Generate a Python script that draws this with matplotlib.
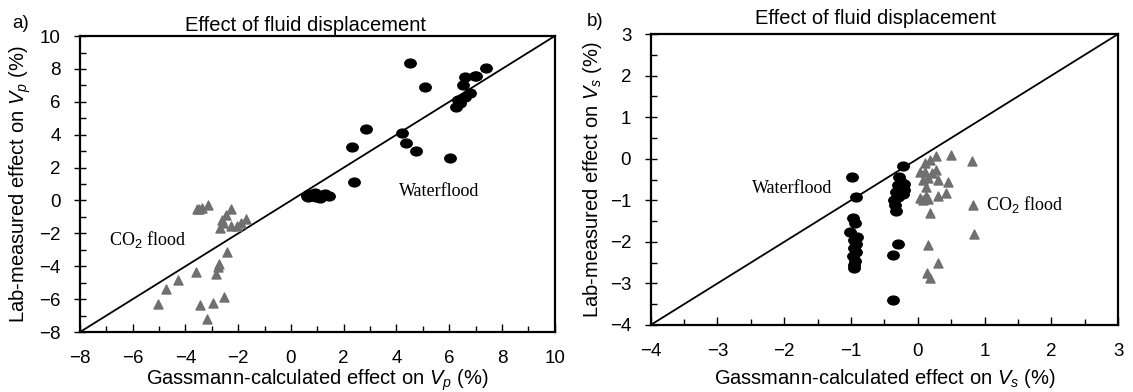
import numpy as np
import matplotlib.pyplot as plt
from matplotlib.path import Path
from matplotlib.transforms import Affine2D

plt.rcParams['font.family'] = ['Liberation Sans', 'DejaVu Sans']
plt.rcParams['mathtext.fontset'] = 'custom'
plt.rcParams['mathtext.it'] = 'Liberation Sans:italic'
plt.rcParams['mathtext.rm'] = 'Liberation Sans'

# panel a) Vp
vp_water_x = [4.5, 5.07, 7.38, 6.59, 6.96, 7.03, 6.52, 6.77, 6.33, 6.27, 6.39, 6.59,
              2.83, 2.33, 2.38, 4.22, 4.37, 4.73, 6.04,
              0.6, 0.7, 0.8, 0.9, 1.0, 1.1, 1.2, 1.3, 1.45, 0.65, 0.95]
vp_water_y = [8.34, 6.92, 8.04, 7.53, 7.57, 7.57, 7.02, 6.52, 6.11, 5.67, 5.91, 6.32,
              4.33, 3.28, 1.15, 4.09, 3.48, 3.02, 2.61,
              0.3, 0.4, 0.25, 0.45, 0.3, 0.15, 0.35, 0.4, 0.3, 0.2, 0.2]
vp_co2_x = [-5.03, -4.72, -4.30, -3.62, -3.45, -3.20, -2.97, -2.55, -2.85, -2.76, -2.72, -2.41,
            -3.58, -3.39, -3.14, -2.29, -2.48, -2.70, -2.57, -2.26, -2.06, -1.88, -1.69, -2.63, -3.48]
vp_co2_y = [-6.28, -5.38, -4.86, -4.35, -6.34, -7.19, -6.24, -5.89, -4.45, -4.05, -3.85, -3.14,
            -0.53, -0.47, -0.26, -0.53, -0.87, -1.68, -1.38, -1.58, -1.58, -1.38, -1.13, -1.17, -0.5]

# panel b) Vs
vs_water_x = [-0.98, -0.93, -0.97, -0.94, -1.02, -0.91, -0.95, -0.93, -0.96, -0.92, -0.97, -0.94, -0.96, -0.95,
              -0.22, -0.28, -0.25, -0.30, -0.22, -0.27, -0.33, -0.22, -0.30, -0.35, -0.25, -0.34, -0.32,
              -0.29, -0.37, -0.37, -0.20, -0.20]
vs_water_y = [-0.43, -0.91, -1.43, -1.55, -1.76, -1.88, -1.95, -2.05, -2.15, -2.25, -2.35, -2.45, -2.55, -2.62,
              -0.17, -0.45, -0.55, -0.62, -0.68, -0.75, -0.80, -0.85, -0.92, -1.00, -0.70, -1.12, -1.25,
              -2.05, -2.32, -3.40, -0.60, -0.75]
vs_co2_x = [0.11, 0.18, 0.28, 0.50, 0.82, 0.03, 0.11, 0.21, 0.28, 0.08, 0.16, 0.31, 0.46, 0.13,
            0.03, 0.08, 0.16, 0.12, 0.31, 0.43, 0.18, 0.83, 0.84, 0.16, 0.31, 0.14, 0.19]
vs_co2_y = [-0.11, -0.03, 0.06, 0.10, -0.06, -0.33, -0.31, -0.35, -0.27, -0.51, -0.47, -0.51, -0.55, -0.67,
            -0.95, -1.00, -0.97, -0.90, -0.90, -0.83, -1.31, -1.11, -1.82, -2.08, -2.52, -2.76, -2.88]

ellipse = Path.unit_circle().transformed(Affine2D().scale(1.3, 1.0))

fig = plt.figure(figsize=(11.33, 3.92), dpi=100)
ax1 = fig.add_axes([0.0706, 0.153, 0.419, 0.755])
ax2 = fig.add_axes([0.5743, 0.171, 0.4125, 0.742])


def style(ax, lo, hi, major):
    ax.set_xlim(lo, hi)
    ax.set_ylim(lo, hi)
    ax.plot([lo, hi], [lo, hi], color='black', lw=1.3, zorder=1)
    ax.set_xticks(np.arange(lo, hi + 0.01, major))
    ax.set_yticks(np.arange(lo, hi + 0.01, major))
    ax.set_xticks(np.arange(lo, hi + 0.01, major / 2), minor=True)
    ax.set_yticks(np.arange(lo, hi + 0.01, major / 2), minor=True)
    ax.tick_params(axis='x', which='major', direction='in', length=6, width=1, labelsize=13.5, pad=13)
    ax.tick_params(axis='y', which='major', direction='inout', length=8, width=1, labelsize=13.5, pad=10)
    ax.tick_params(which='minor', direction='in', length=4, width=1)
    for s in ax.spines.values():
        s.set_linewidth(1.6)
    ax.set_xticklabels([f'{v:g}'.replace('-', '\u2212') for v in ax.get_xticks()])
    ax.set_yticklabels([f'{v:g}'.replace('-', '\u2212') for v in ax.get_yticks()])


style(ax1, -8, 10, 2)
ax1.scatter(vp_water_x, vp_water_y, marker=ellipse, s=68, color='black', zorder=3)
ax1.scatter(vp_co2_x, vp_co2_y, marker='^', s=42, color='#707070', zorder=3)
ax1.text(-6.9, -2.35, 'CO$_2$ flood', family='Liberation Serif', fontsize=13, va='center')
ax1.text(4.1, 0.55, 'Waterflood', family='Liberation Serif', fontsize=13, va='center')
ax1.set_title('Effect of fluid displacement', fontsize=14.5, x=0.476, pad=4)
ax1.set_xlabel('Gassmann-calculated effect on $V_p$ (%)', fontsize=14.5, labelpad=0)
ax1.set_ylabel('Lab-measured effect on $V_p$ (%)', fontsize=14.5, labelpad=4)
fig.text(0.011, 0.94, 'a)', fontsize=13.5, va='center')

style(ax2, -4, 3, 1)
ax2.scatter(vs_water_x, vs_water_y, marker=ellipse, s=68, color='black', zorder=3)
ax2.scatter(vs_co2_x, vs_co2_y, marker='^', s=42, color='#707070', zorder=3)
ax2.text(-2.49, -0.71, 'Waterflood', family='Liberation Serif', fontsize=13, va='center')
ax2.text(1.02, -1.09, 'CO$_2$ flood', family='Liberation Serif', fontsize=13, va='center')
ax2.set_title('Effect of fluid displacement', fontsize=14.5, x=0.482, pad=7)
ax2.set_xlabel('Gassmann-calculated effect on $V_s$ (%)', fontsize=14.5, labelpad=5)
ax2.set_ylabel('Lab-measured effect on $V_s$ (%)', fontsize=14.5, labelpad=4)
fig.text(0.518, 0.945, 'b)', fontsize=13.5, va='center')

fig.savefig('out.png', dpi=100)
